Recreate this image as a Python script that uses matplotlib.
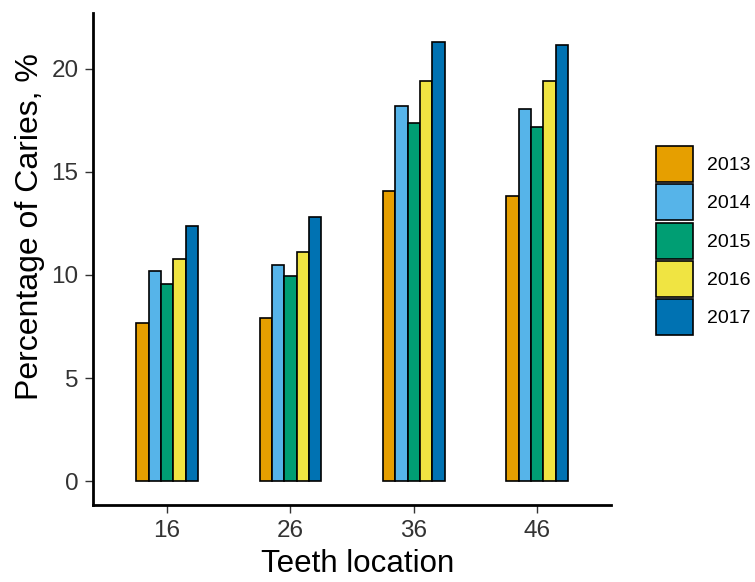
import numpy as np
import matplotlib
matplotlib.use("Agg")
import matplotlib.pyplot as plt
from matplotlib.patches import Patch

plt.rcParams['font.family'] = ['Liberation Sans', 'DejaVu Sans']

teeth = ["16", "26", "36", "46"]
years = ["2013", "2014", "2015", "2016", "2017"]
caries = {
    "2013": [7.67, 7.91, 14.09, 13.85],
    "2014": [10.18, 10.50, 18.17, 18.03],
    "2015": [9.54, 9.96, 17.37, 17.19],
    "2016": [10.78, 11.10, 19.42, 19.42],
    "2017": [12.38, 12.80, 21.27, 21.14],
}
colors = ["#E69F00", "#56B4E9", "#009E73", "#F0E442", "#0072B2"]

fig = plt.figure(figsize=(7.55, 5.82), dpi=100)
ax = fig.add_axes([93 / 755, 1 - 505 / 582, (611 - 93) / 755, (505 - 13) / 582])

x = np.arange(1, len(teeth) + 1)
w = 0.1
for i, yr in enumerate(years):
    ax.bar(x + (i - 2) * w, caries[yr], width=w, color=colors[i],
           edgecolor="black", linewidth=1.2)

ax.set_xlim(0.4, 4.6)
ax.set_ylim(-1.15, 22.7)
ax.set_xticks(x)
ax.set_xticklabels(teeth)
ax.set_yticks([0, 5, 10, 15, 20])
ax.tick_params(labelsize=17.5, colors="#333333", length=5.5, width=1, pad=5)
for s in ["top", "right"]:
    ax.spines[s].set_visible(False)
for s in ["left", "bottom"]:
    ax.spines[s].set_linewidth(2)

ax.set_xlabel("Teeth location", fontsize=22.5)
ax.xaxis.set_label_coords((357.5 - 93) / 518, (505 - 549) / 492)
ax.set_ylabel("Percentage of Caries, %", fontsize=23)
ax.yaxis.set_label_coords((45 - 93) / 518, (505 - 226.5) / 492)

handles = [Patch(facecolor=c, edgecolor="black", linewidth=1.2) for c in colors]
fig.legend(handles, years, loc="upper left", bbox_to_anchor=(656 / 755, 1 - 146 / 582),
           frameon=False, fontsize=14, handlelength=1.9, handleheight=2.47,
           labelspacing=0.12, handletextpad=0.72, borderpad=0, borderaxespad=0)

fig.savefig("out.png", dpi=100)
